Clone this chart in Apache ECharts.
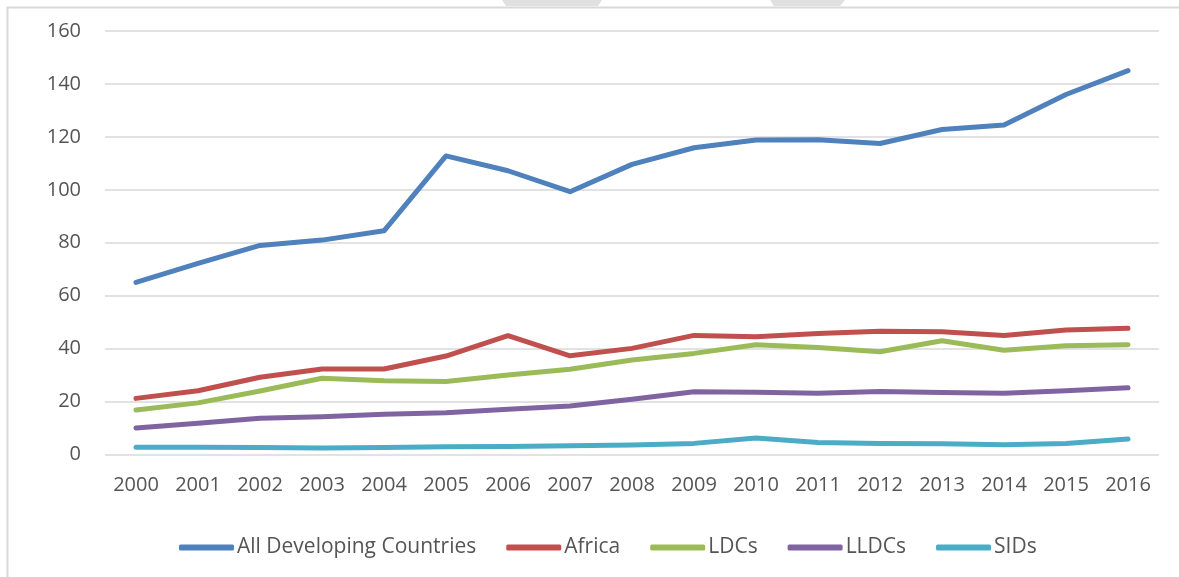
<!DOCTYPE html>
<html>
<head>
<meta charset="utf-8">
<script src="https://cdn.jsdelivr.net/npm/echarts@6/dist/echarts.min.js"></script>
<style>
  html, body { margin: 0; padding: 0; background: #fff; }
  #chart { width: 1179px; height: 577px; }
</style>
</head>
<body>
<div id="chart"></div>
<script>
var years = ['2000', '2001', '2002', '2003', '2004', '2005', '2006', '2007', '2008',
    '2009', '2010', '2011', '2012', '2013', '2014', '2015', '2016'];
var all_dev = [65, 72.2, 79, 81, 84.5, 112.8, 107.2, 99.3, 109.6, 115.9, 118.8, 118.9, 117.5, 122.8, 124.5, 136, 145];
var africa = [21.2, 24.1, 29.2, 32.3, 32.3, 37.2, 44.9, 37.3, 40.1, 45, 44.5, 45.7, 46.6, 46.4, 45, 47, 47.7];
var ldcs = [16.8, 19.5, 24, 28.8, 27.9, 27.6, 30, 32.2, 35.7, 38.2, 41.5, 40.4, 38.8, 43, 39.4, 41.1, 41.5];
var lldcs = [10, 11.8, 13.7, 14.3, 15.2, 15.8, 17.1, 18.3, 20.9, 23.7, 23.5, 23.1, 23.8, 23.4, 23.1, 24.1, 25.2];
var sids = [2.7, 2.7, 2.6, 2.5, 2.6, 2.9, 3, 3.3, 3.6, 4.2, 6.2, 4.5, 4.2, 4.1, 3.7, 4.2, 5.9];

var names = ['All Developing Countries', 'Africa', 'LDCs', 'LLDCs', 'SIDs'];
var colors = ['#4F81BD', '#C0504D', '#9BBB59', '#8064A2', '#4BACC6'];
var values = [all_dev, africa, ldcs, lldcs, sids];

var font = 'Open Sans';
var textColor = '#555555';

function get_series() {
    var out = [];
    for (var i = 0; i < names.length; i++) {
        out.push({
            name: names[i],
            type: 'line',
            data: values[i],
            symbol: 'none',
            smooth: false,
            lineStyle: { width: 5, color: colors[i], cap: 'round', join: 'round' },
            itemStyle: { color: colors[i] }
        });
    }
    return out;
}

var chart = echarts.init(document.getElementById('chart'));
chart.setOption({
    animation: false,
    color: colors,
    textStyle: { fontFamily: font },
    graphic: [
        {
            type: 'rect',
            shape: { x: 7.5, y: 7.5, width: 1200, height: 600 },
            style: { fill: 'none', stroke: '#D9D9D9', lineWidth: 2 },
            z: -10
        },
        {
            type: 'polygon',
            shape: { points: [[502, 0], [602, 0], [598, 6], [506, 6]] },
            style: { fill: '#E0E0E0' },
            z: -9
        },
        {
            type: 'polygon',
            shape: { points: [[770, 0], [845, 0], [840, 6], [774, 6]] },
            style: { fill: '#E0E0E0' },
            z: -9
        }
    ],
    grid: { left: 105, right: 20, top: 31, bottom: 122.5, containLabel: false },
    legend: {
        data: names,
        left: 174,
        top: 532,
        icon: 'roundRect',
        itemWidth: 55,
        itemHeight: 6,
        itemGap: 30,
        textStyle: { fontFamily: font, fontSize: 21, color: textColor, padding: [0, 0, 0, -2] }
    },
    xAxis: {
        type: 'category',
        data: years,
        boundaryGap: true,
        axisLine: { show: false },
        axisTick: { show: false },
        axisLabel: { fontFamily: font, fontSize: 20, color: textColor, margin: 21 }
    },
    yAxis: {
        type: 'value',
        min: 0,
        max: 160,
        interval: 20,
        axisLine: { show: false },
        axisTick: { show: false },
        axisLabel: { fontFamily: font, fontSize: 20, color: textColor, margin: 24 },
        splitLine: { lineStyle: { color: '#D9D9D9', width: 1.5 } }
    },
    series: get_series()
});
</script>
</body>
</html>
